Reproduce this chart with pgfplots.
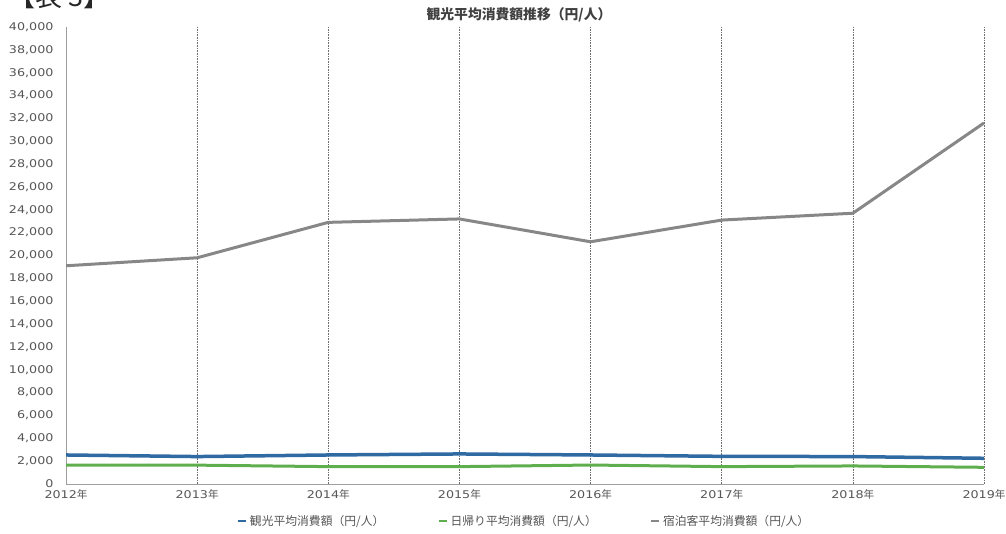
\documentclass[border=0pt]{standalone}
\usepackage{pgfplots}
\pgfplotsset{compat=1.18}
\usepackage{fontspec}
\setmainfont{DejaVu Sans}
\newfontfamily\cjk{Noto Sans CJK JP}
\newfontfamily\tickfont{DejaVu Sans}[FakeStretch=1.2]

\definecolor{lineGray}{HTML}{878787}
\definecolor{lineBlue}{HTML}{2F6AA3}
\definecolor{lineGreen}{HTML}{5FAE4E}
\definecolor{txt}{HTML}{555555}
\definecolor{gridc}{HTML}{6E6E6E}

\begin{document}
\begin{tikzpicture}
\useasboundingbox (0pt,0pt) rectangle (1006pt,534pt);
% table heading, partly above the page edge
\node[anchor=base west, font=\cjk\fontsize{27}{27}\selectfont, inner sep=0, text=black!85] at (8pt,527pt) {【表 3】};

\begin{axis}[
  at={(66pt,50pt)}, anchor=south west,
  scale only axis, width=918pt, height=457pt,
  xmin=2012, xmax=2019, ymin=0, ymax=40000,
  xtick={2012,2013,2014,2015,2016,2017,2018,2019},
  xticklabels={2012{\cjk 年},2013{\cjk 年},2014{\cjk 年},2015{\cjk 年},2016{\cjk 年},2017{\cjk 年},2018{\cjk 年},2019{\cjk 年}},
  ytick={0,2000,...,40000},
  scaled y ticks=false,
  axis x line*=bottom, axis y line*=left,
  axis line style={-, gray!75, line width=0.8pt},
  major tick length=0pt,
  xmajorgrids,
  grid style={gridc, line width=0.6pt, dash pattern=on 0.8pt off 0.8pt},
  tick label style={font=\tickfont\fontsize{10.6}{11}\selectfont, text=txt},
  y tick label style={xshift=-9pt, /pgf/number format/.cd, 1000 sep={,}, fixed, assume math mode=true},
  x tick label style={yshift=-2pt},
  legend columns=3,
  legend style={at={(0.4995,-0.081)}, anchor=center, draw=none, fill=none,
    font=\cjk\fontsize{11.8}{13}\selectfont, text=txt,
    /tikz/every even column/.append style={column sep=52pt},
    /tikz/every odd column/.append style={column sep=1pt}},
  legend image code/.code={\draw[#1, line width=1.2pt] (0pt,0pt) -- (8pt,0pt);},
]
\addplot[lineBlue, line width=3.5pt] coordinates {
  (2012,2540) (2013,2400) (2014,2540) (2015,2630) (2016,2540) (2017,2420) (2018,2400) (2019,2250)};
\addlegendentry{観光平均消費額（円/人）}
\addplot[lineGreen, line width=3pt] coordinates {
  (2012,1660) (2013,1650) (2014,1520) (2015,1520) (2016,1660) (2017,1520) (2018,1580) (2019,1460)};
\addlegendentry{日帰り平均消費額（円/人）}
\addplot[lineGray, line width=3pt] coordinates {
  (2012,19100) (2013,19800) (2014,22900) (2015,23200) (2016,21200) (2017,23100) (2018,23700) (2019,31600)};
\addlegendentry{宿泊客平均消費額（円/人）}
\end{axis}

\node[font=\cjk\bfseries\fontsize{13.8}{14}\selectfont, text=black!75] at (519pt,519pt) {観光平均消費額推移（円/人）};
\end{tikzpicture}
\end{document}
